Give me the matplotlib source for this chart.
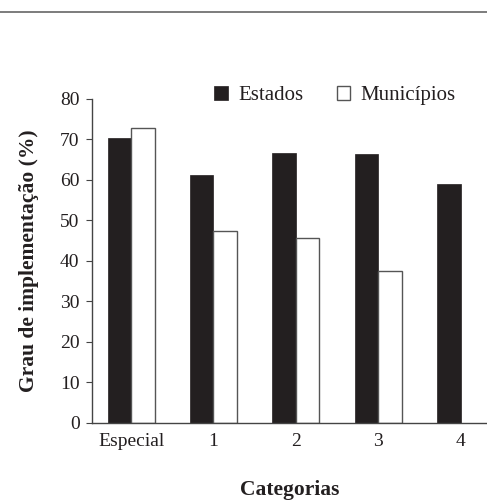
#!/usr/bin/env python3

import matplotlib.pyplot as plt
import numpy as np
from matplotlib.lines import Line2D

categories = ["Especial", "1", "2", "3", "4"]
estados = [70.4, 61.3, 66.6, 66.3, 58.9]
municipios = [72.8, 47.5, 45.8, 37.6, None]
yticks = [0, 10, 20, 30, 40, 50, 60, 70, 80]

INK = "#231f20"


def main():
	plt.rcParams['font.family'] = ['Liberation Serif', 'DejaVu Serif']

	fig = plt.figure(figsize=(4.87, 5.01), dpi=100)
	ax = fig.add_axes([0.189, 0.1557, 0.811, 0.6467])

	x = np.arange(len(categories))
	w = 0.285

	# black bars sit left of the category centre, white bars right of it
	ax.bar(x - w / 2, estados, width=w, color=INK, edgecolor=INK, linewidth=0.5, label="Estados")
	m_x = [xi + w / 2 for xi, v in zip(x, municipios) if v is not None]
	m_v = [v for v in municipios if v is not None]
	ax.bar(m_x, m_v, width=w, color="white", edgecolor="#555555", linewidth=1.0, label="Municípios")

	ax.set_xlim(-0.473, 4.32)
	ax.set_ylim(0, 80)
	ax.set_xticks(x)
	ax.set_xticklabels(categories)
	ax.set_yticks(yticks)

	for s in ["top", "right"]:
		ax.spines[s].set_visible(False)
	for s in ["left", "bottom"]:
		ax.spines[s].set_color("#444444")
		ax.spines[s].set_linewidth(1.0)

	ax.tick_params(axis='x', length=0, pad=7, labelsize=14, colors=INK)
	ax.tick_params(axis='y', length=4, width=0.8, color="#444444", pad=5, labelsize=14, labelcolor=INK)

	ax.set_ylabel("Grau de implementação (%)", fontsize=15.5, fontweight='bold', color=INK, labelpad=15)
	ax.set_xlabel("Categorias", fontsize=15.5, fontweight='bold', color=INK, labelpad=22)

	leg = ax.legend(loc='center', bbox_to_anchor=(0.615, 1.01), ncol=2, frameon=False,
		fontsize=15, handlelength=0.65, handleheight=0.65, columnspacing=1.6, handletextpad=0.5)
	for t in leg.get_texts():
		t.set_color(INK)

	# thin rule along the top of the page
	fig.add_artist(Line2D([0, 1], [0.977, 0.977], color="#666666", linewidth=1.2, transform=fig.transFigure))

	fig.savefig("out.png", dpi=100)


if __name__ == '__main__':
	main()
